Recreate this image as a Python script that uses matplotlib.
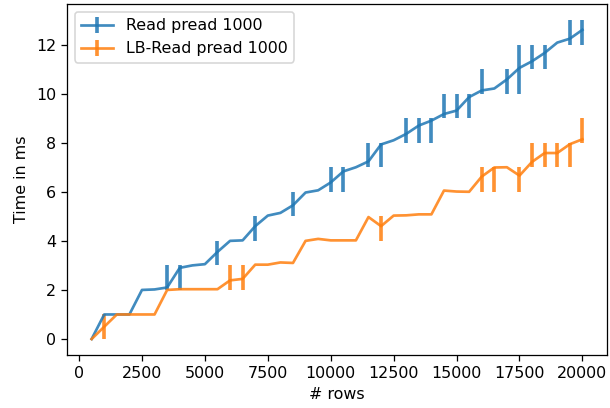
import numpy as np
import matplotlib.pyplot as plt

# rows read per test
rows = list(range(500, 20001, 500))

# Read pread 1000: mean time and min/max range (ms)
read_mean = [0.0, 1.0, 1.0, 1.0, 2.0, 2.02, 2.1, 2.9, 3.0, 3.05,
             3.55, 4.0, 4.02, 4.6, 5.03, 5.14, 5.45, 5.97, 6.06, 6.38,
             6.83, 7.0, 7.24, 7.93, 8.1, 8.36, 8.7, 8.9, 9.17, 9.31,
             9.86, 10.13, 10.21, 10.58, 11.05, 11.32, 11.66, 12.08, 12.24, 12.6]
read_lo = [0.0, 1.0, 1.0, 1.0, 2.0, 2.02, 2, 2, 3.0, 3.05,
           3, 4.0, 4.02, 4, 5.03, 5.14, 5, 5.97, 6.06, 6,
           6, 7.0, 7, 7, 8.1, 8, 8, 8, 9, 9,
           9, 10, 10.21, 10, 10, 11, 11, 12.08, 12, 12]
read_hi = [0.0, 1.0, 1.0, 1.0, 2.0, 2.02, 3, 3, 3.0, 3.05,
           4, 4.0, 4.02, 5, 5.03, 5.14, 6, 5.97, 6.06, 7,
           7, 7.0, 8, 8, 8.1, 9, 9, 9, 10, 10,
           10, 11, 10.21, 11, 12, 12, 12, 12.08, 13, 13]

# LB-Read pread 1000
lb_mean = [0.0, 0.5, 1.0, 1.0, 1.0, 1.0, 2.0, 2.03, 2.03, 2.03,
           2.03, 2.39, 2.45, 3.03, 3.03, 3.12, 3.1, 4.0, 4.08, 4.02,
           4.02, 4.02, 4.97, 4.6, 5.03, 5.04, 5.08, 5.08, 6.05, 6.01,
           6.0, 6.62, 6.99, 7.0, 6.66, 7.22, 7.58, 7.58, 7.94, 8.14]
lb_lo = [0.0, 0, 1.0, 1.0, 1.0, 1.0, 2.0, 2.03, 2.03, 2.03,
         2.03, 2, 2, 3.03, 3.03, 3.12, 3.1, 4.0, 4.08, 4.02,
         4.02, 4.02, 4.97, 4, 5.03, 5.04, 5.08, 5.08, 6.05, 6.01,
         6.0, 6, 6, 7.0, 6, 7, 7, 7, 7, 8]
lb_hi = [0.0, 1, 1.0, 1.0, 1.0, 1.0, 2.0, 2.03, 2.03, 2.03,
         2.03, 3, 3, 3.03, 3.03, 3.12, 3.1, 4.0, 4.08, 4.02,
         4.02, 4.02, 4.97, 5, 5.03, 5.04, 5.08, 5.08, 6.05, 6.01,
         6.0, 7, 7, 7.0, 7, 8, 8, 8, 8, 9]

dpi = 114
fig = plt.figure(figsize=(610 / dpi, 408 / dpi), dpi=dpi)
ax = fig.add_axes([0.110, 0.130, 0.885, 0.860])

for mean, lo, hi, label in [(read_mean, read_lo, read_hi, 'Read pread 1000'),
                            (lb_mean, lb_lo, lb_hi, 'LB-Read pread 1000')]:
    mean = np.array(mean)
    yerr = [mean - np.array(lo), np.array(hi) - mean]
    ax.errorbar(rows, mean, yerr=yerr, lw=1.7, elinewidth=2.3, alpha=0.85, label=label)

ax.set_xlabel('# rows')
ax.set_ylabel('Time in ms')
ax.legend(loc='upper left')

fig.savefig('out.png', dpi=dpi)
